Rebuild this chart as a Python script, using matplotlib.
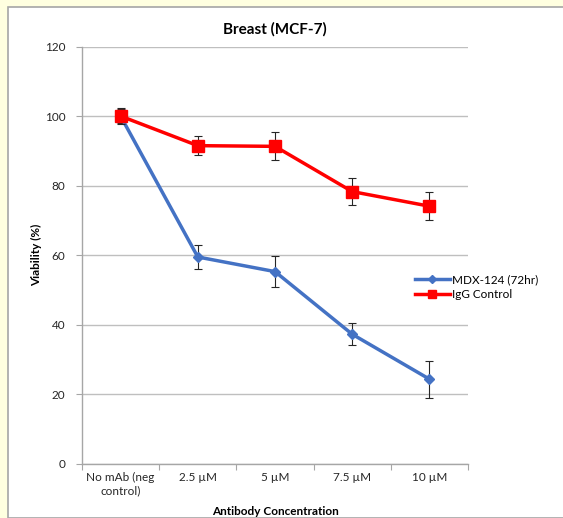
import matplotlib
matplotlib.use('Agg')
import matplotlib.pyplot as plt
from matplotlib.patches import Rectangle
from matplotlib.lines import Line2D
import numpy as np

plt.rcParams['font.family'] = ['Lato', 'DejaVu Sans']

# Viability data for MCF-7 cells
categories = ['No mAb (neg\ncontrol)', '2.5 \u00b5M', '5 \u00b5M', '7.5 \u00b5M', '10 \u00b5M']
mdx_viability = [100.0, 59.5, 55.3, 37.3, 24.4]
mdx_err = [2.0, 3.5, 4.4, 3.1, 5.3]
igg_viability = [100.0, 91.5, 91.3, 78.3, 74.1]
igg_err = [2.4, 2.7, 4.0, 3.8, 4.0]
series_labels = ['MDX-124 (72hr)', 'IgG Control']

BLUE = '#4472C4'
RED = '#FF0000'

fig = plt.figure(figsize=(5.63, 5.18), dpi=100)
fig.patch.set_facecolor('#FFFFE0')

# white chart area with a thin gray frame, kept behind the axes
fig.patches.append(Rectangle((8 / 563, 0), 1, 1 - 7 / 518, transform=fig.transFigure,
                             facecolor='white', edgecolor='#A6A6A6', linewidth=1.2, zorder=-5))

ax = fig.add_axes([82 / 563, 54 / 518, 386 / 563, 417.5 / 518])
ax.set_facecolor('white')

x = np.arange(len(categories))
ax.errorbar(x, mdx_viability, yerr=mdx_err, color=BLUE, lw=2.5, marker='D', ms=5,
            mfc=BLUE, mec=BLUE, ecolor='#262626', elinewidth=0.8, capsize=3, capthick=0.8,
            zorder=3)
ax.errorbar(x, igg_viability, yerr=igg_err, color=RED, lw=2.5, marker='s', ms=8,
            mfc=RED, mec=RED, ecolor='#262626', elinewidth=0.8, capsize=3, capthick=0.8,
            zorder=4)

ax.set_xlim(-0.5, len(categories) - 0.5)
ax.set_ylim(0, 120)
ax.set_yticks(np.arange(0, 121, 20))
ax.set_xticks(x)
ax.set_xticklabels(categories, fontsize=8.5, color='#262626')
ax.set_xticks(np.arange(-0.5, len(categories), 1.0), minor=True)
ax.tick_params(axis='x', which='major', length=0, pad=6)
ax.tick_params(axis='x', which='minor', length=4, color='#A6A6A6', width=0.8)
ax.tick_params(axis='y', labelsize=8.5, labelcolor='#262626', length=4, color='#A6A6A6',
               width=0.8, pad=8)

ax.grid(axis='y', color='#BFBFBF', lw=1)
ax.set_axisbelow(True)
for side in ['top', 'right']:
    ax.spines[side].set_visible(False)
for side in ['left', 'bottom']:
    ax.spines[side].set_color('#A6A6A6')
    ax.spines[side].set_linewidth(1)

ax.set_title('Breast (MCF-7)', fontsize=11, fontweight='bold', pad=9)
ax.set_xlabel('Antibody Concentration', fontsize=8.5, fontweight='bold', labelpad=7)
ax.set_ylabel('Viability (%)', fontsize=8.5, fontweight='bold')
ax.yaxis.set_label_coords(-40 / 386, 0.5)

handles = [
    Line2D([], [], color=BLUE, lw=2.5, marker='D', ms=4, mfc=BLUE, mec=BLUE),
    Line2D([], [], color=RED, lw=2.5, marker='s', ms=6, mfc=RED, mec=RED),
]
fig.legend(handles, series_labels, loc='center left', bbox_to_anchor=(410 / 563, 1 - 287 / 518),
           frameon=False, fontsize=8.5, handlelength=3, handletextpad=0.2,
           labelspacing=0.3, borderaxespad=0)

fig.savefig('out.png', dpi=100, facecolor=fig.get_facecolor())
